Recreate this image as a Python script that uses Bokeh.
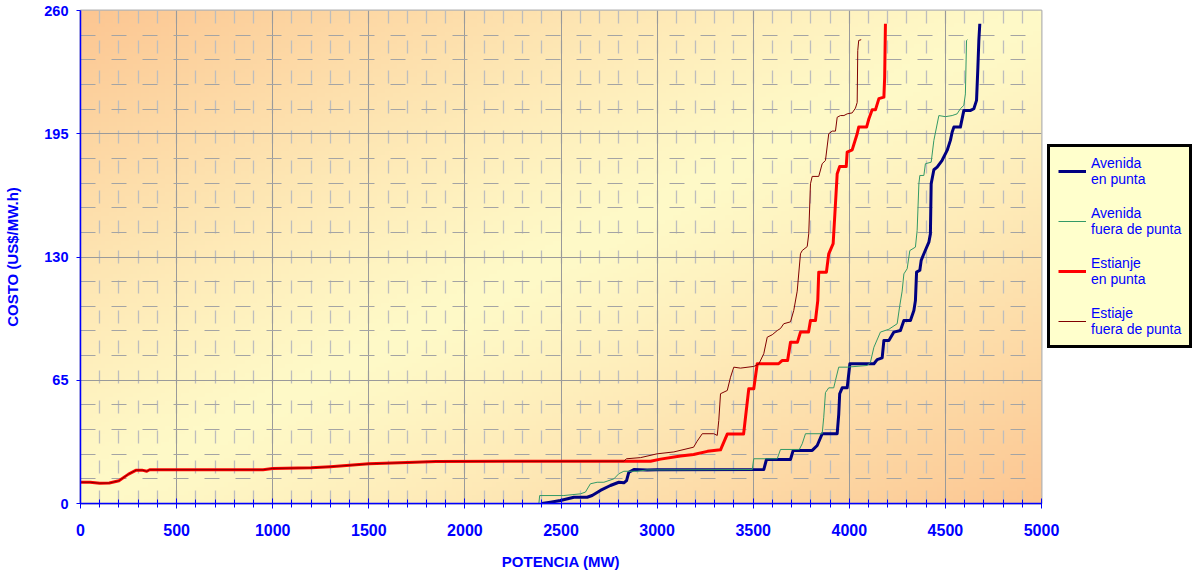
import numpy as np
from bokeh.plotting import figure
from bokeh.models import Range1d, SingleIntervalTicker, FixedTicker, Legend, LegendItem
from bokeh.embed import file_html
from bokeh.resources import INLINE

# ---------------- data (MW, US$/MW.h) ----------------
avenida_punta = [(2400, 0), (2445, 0.7), (2497, 1.6), (2567, 3.3), (2636, 3.3), (2662, 4.2), (2705, 6.9),
                 (2757, 9.5), (2801, 11.2), (2827, 10.9), (2841, 12.1), (2853, 16.5), (2879, 17.9), (2948, 17.7),
                 (3000, 17.8), (3555, 17.9), (3569, 23.2), (3694, 23.2), (3708, 28), (3807, 28), (3833, 30.6),
                 (3859, 36.8), (3937, 36.8), (3945, 47), (3950, 57.9), (3963, 61), (3989, 61), (4003, 73.7),
                 (4128, 73.7), (4145, 75.9), (4171, 76.8), (4180, 86), (4206, 86), (4232, 90.4), (4266, 91.2),
                 (4284, 96.5), (4318, 96.5), (4336, 101.8), (4344, 107), (4350, 122), (4367, 123), (4374, 128.2),
                 (4388, 131.7), (4414, 137.8), (4422, 142.2), (4426, 168.6), (4440, 176), (4457, 177.4),
                 (4483, 181), (4509, 186.2), (4526, 191.5), (4535, 195.8), (4544, 198.5), (4578, 198.5),
                 (4596, 207.3), (4631, 207.3), (4648, 208.2), (4662, 212.6), (4669, 230), (4674, 244.2),
                 (4679, 253)]

avenida_fuera = [(2385, 0), (2389, 4.2), (2515, 4.2), (2601, 5.1), (2627, 6), (2653, 10.4), (2688, 11.2),
                 (2723, 11.2), (2775, 13), (2801, 15.7), (2827, 17), (2896, 17), (2948, 17.7), (3495, 17.9),
                 (3503, 23.6), (3625, 23.6), (3642, 28.5), (3740, 28.5), (3755, 31.5), (3772, 36.8),
                 (3859, 36.8), (3867, 45.5), (3876, 58.5), (3893, 61), (3919, 61), (3928, 64.9), (3945, 71.9),
                 (3989, 71.9), (4093, 72.8), (4110, 74.5), (4128, 82.4), (4162, 90.4), (4206, 91.9),
                 (4249, 94.8), (4262, 104), (4275, 112), (4284, 121.1), (4301, 123.8), (4315, 133.4),
                 (4344, 135.2), (4353, 144), (4362, 168.6), (4367, 173), (4388, 173), (4396, 179.2),
                 (4426, 180), (4440, 191.5), (4466, 204.6), (4500, 204), (4535, 204.6), (4561, 205.5),
                 (4578, 208.2), (4596, 210), (4604, 216), (4610, 244.2), (4615, 244.6)]

estianje_punta = [(0, 11.2), (50, 11.2), (100, 10.7), (150, 10.8), (200, 12), (250, 15.5), (290, 17.6),
                  (320, 17.6), (345, 17.0), (360, 17.8), (950, 17.8), (1000, 18.5), (1200, 18.8), (1300, 19.4),
                  (1500, 20.9), (1700, 21.6), (1850, 22.2), (2966, 22.3), (3018, 23.4), (3122, 25.0),
                  (3190, 25.8), (3262, 27.5), (3330, 28.3), (3365, 36.6), (3450, 36.6), (3477, 60.5),
                  (3503, 60.5), (3521, 73.7), (3632, 73.7), (3650, 75.4), (3679, 75.4), (3694, 85), (3730, 85),
                  (3746, 90.4), (3788, 90.4), (3798, 96.5), (3824, 96.5), (3836, 107), (3841, 122), (3881, 122),
                  (3893, 131.7), (3916, 137), (3937, 173.9), (3950, 177.7), (3984, 177.7), (3989, 185.3),
                  (4015, 186.5), (4041, 195), (4049, 198.5), (4090, 198.5), (4102, 202.9), (4119, 207.6),
                  (4136, 207.6), (4154, 213.5), (4180, 214.3), (4184, 224.8), (4188, 253)]

estiaje_fuera = [(0, 11.2), (50, 11.2), (100, 10.7), (150, 10.8), (200, 12), (250, 15.5), (290, 17.6),
                 (320, 17.6), (345, 17.0), (360, 17.8), (950, 17.8), (1000, 18.5), (1200, 18.8), (1300, 19.4),
                 (1500, 20.9), (1700, 21.6), (1850, 22.2), (2827, 22.3), (2841, 23.6), (2914, 24.2),
                 (3000, 26.2), (3087, 27.2), (3190, 29.7), (3208, 32.8), (3235, 36.8), (3295, 36.8),
                 (3313, 35.9), (3321, 43.8), (3330, 57.9), (3365, 59.6), (3382, 66.6), (3399, 71.9),
                 (3434, 71.4), (3503, 72.3), (3529, 73.5), (3555, 79), (3573, 87.7), (3599, 89), (3625, 91.2),
                 (3642, 92.3), (3659, 94.8), (3694, 95.8), (3711, 101.8), (3729, 112), (3746, 131.7),
                 (3755, 133.4), (3781, 135.5), (3789, 142.2), (3798, 168.6), (3807, 172.5), (3841, 172.5),
                 (3859, 179.2), (3876, 180.9), (3893, 195), (3911, 196.4), (3928, 196.4), (3937, 203.7),
                 (3954, 204.6), (3972, 204.6), (3989, 205.5), (4015, 206), (4032, 208.5), (4041, 211.5),
                 (4044, 238.9), (4049, 244.2), (4062, 244.6)]

series_names = ["Avenida\nen punta", "Avenida\nfuera de punta", "Estianje\nen punta", "Estiaje\nfuera de punta"]
x_ticks_interval = 500
y_ticks = [0, 65, 130, 195, 260]

BLUE_TXT = "#0000FF"
FONT = "Liberation Sans"

p = figure(frame_width=961, frame_height=493, output_backend="svg", toolbar_location=None,
           x_range=Range1d(0, 5000), y_range=Range1d(0, 260),
           min_border_left=80, min_border_right=150, min_border_top=10, min_border_bottom=70,
           background_fill_color="white", border_fill_color="white")

# gradient background of the plot area
H, W = 120, 240
u = np.linspace(0, 1, W)[None, :]
v = 1 - np.linspace(0, 1, H)[:, None]
t = (u + v) / 2
s = np.clip(np.abs(t - 0.5) * 2, 0, 1) ** 1.2
orange = np.array([252, 198, 146], dtype=float)
yellow = np.array([255, 250, 200], dtype=float)
img = np.empty((H, W), dtype=np.uint32)
view = img.view(dtype=np.uint8).reshape((H, W, 4))
for k in range(3):
    view[:, :, k] = (yellow[k] + (orange[k] - yellow[k]) * s).astype(np.uint8)
view[:, :, 3] = 255
p.image_rgba(image=[img], x=0, y=0, dw=5000, dh=260, level="image")

# ticks and grids
xt = SingleIntervalTicker(interval=x_ticks_interval, num_minor_ticks=5)
yt = FixedTicker(ticks=y_ticks, minor_ticks=[v_ for v_ in range(0, 261, 13)])
p.xaxis.ticker = xt
p.yaxis.ticker = yt
p.xgrid.ticker = xt
p.ygrid.ticker = yt

p.xgrid.grid_line_color = "#9A9A9A"
p.ygrid.grid_line_color = "#9A9A9A"
p.xgrid.minor_grid_line_color = "#BDBDBD"
p.xgrid.minor_grid_line_dash = "13 17"
p.xgrid.minor_grid_line_width = 1.3
p.ygrid.minor_grid_line_color = "#A4A4A4"
p.ygrid.minor_grid_line_dash = "15 16"

p.outline_line_color = "#B4B4B4"
p.outline_line_width = 2

for ax in (p.xaxis[0], p.yaxis[0]):
    ax.axis_line_color = "#0000FF"
    ax.axis_line_width = 1.5
    ax.major_tick_line_color = "#0000FF"
    ax.minor_tick_line_color = "#0000FF"
    ax.major_label_text_color = BLUE_TXT
    ax.major_label_text_font = FONT
    ax.major_label_text_font_style = "bold"
    ax.axis_label_text_color = BLUE_TXT
    ax.axis_label_text_font = FONT
    ax.axis_label_text_font_style = "bold"
    ax.axis_label_text_font_size = "15px"

p.xaxis.major_tick_in = 5
p.xaxis.major_tick_out = 5
p.xaxis.minor_tick_in = 4
p.xaxis.minor_tick_out = 4
p.xaxis.major_label_text_font_size = "16px"
p.xaxis.major_label_standoff = 15
p.xaxis.axis_label = "POTENCIA (MW)"
p.xaxis.axis_label_standoff = 14

p.yaxis.major_tick_in = 0
p.yaxis.major_tick_out = 4
p.yaxis.minor_tick_in = 0
p.yaxis.minor_tick_out = 0
p.yaxis.major_label_text_font_size = "14.5px"
p.yaxis.major_label_standoff = 8
p.yaxis.axis_label = "COSTO (US$/MW.h)"
p.yaxis.axis_label_standoff = 20

# series
styles = [(avenida_punta, "#000080", 3), (avenida_fuera, "#339966", 1),
          (estianje_punta, "#FF0000", 3), (estiaje_fuera, "#800000", 1)]
items = []
for (data, color, lw), name in zip(styles, series_names):
    xs = [d[0] for d in data]
    ys = [d[1] for d in data]
    r = p.line(xs, ys, line_color=color, line_width=lw, line_join="round")
    items.append(LegendItem(label=name, renderers=[r]))

legend = Legend(items=items, location=(6, 155), orientation="vertical",
                border_line_color="black", border_line_width=3, border_line_alpha=1,
                background_fill_color="#FFFFCC", background_fill_alpha=1,
                label_text_color=BLUE_TXT, label_text_font=FONT, label_text_font_size="14px",
                label_text_line_height=1.29,
                glyph_width=28, glyph_height=18, label_height=18, label_standoff=5,
                spacing=18, padding=8, margin=0)
p.add_layout(legend, "right")

open("out.html", "w").write(file_html(p, INLINE))
